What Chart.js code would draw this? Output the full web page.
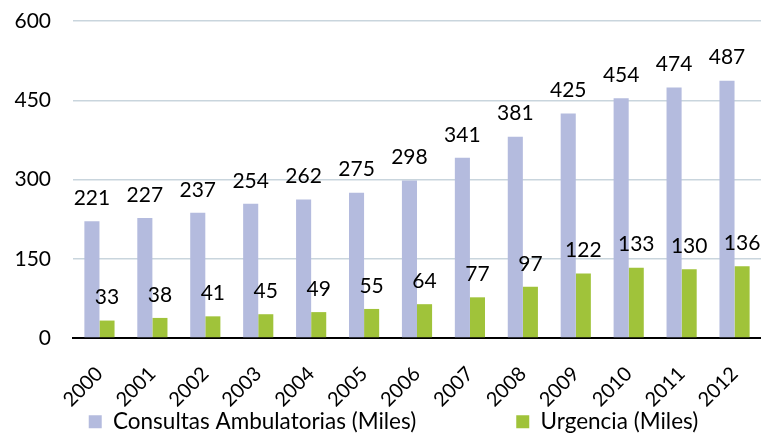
<!DOCTYPE html>
<html>
<head>
<meta charset="utf-8">
<script src="https://cdn.jsdelivr.net/npm/chart.js@4.4.1/dist/chart.umd.min.js"></script>
<style>
  html, body { margin: 0; padding: 0; background: #ffffff; }
  #wrap { width: 761px; height: 435px; }
</style>
</head>
<body>
<div id="wrap"><canvas id="c" width="761" height="435"></canvas></div>
<script>
const years = ['2000','2001','2002','2003','2004','2005','2006','2007','2008','2009','2010','2011','2012'];
const consultas = [221, 227, 237, 254, 262, 275, 298, 341, 381, 425, 454, 474, 487];
const urgencia = [33, 38, 41, 45, 49, 55, 64, 77, 97, 122, 133, 130, 136];
const seriesNames = ['Consultas Ambulatorias (Miles)', 'Urgencia (Miles)'];
const yTicks = [0, 150, 300, 450, 600];

const FONT = 'Lato, "Open Sans", sans-serif';
const LEGEND_FONT = 22.5;
const LEGEND_PAD = 100;        // horizontal gap between legend items
const LEGEND_HEIGHT = 24;      // vertical space reserved for the legend
const LEGEND_TEXT_OFFSET = 13; // text centre below legend top
const LEGEND_SHIFT = 13;       // legend sits slightly right of centre

const valueLabels = {
  id: 'valueLabels',
  afterDatasetsDraw(chart) {
    const ctx = chart.ctx;
    ctx.save();
    ctx.font = '21px ' + FONT;
    ctx.fillStyle = '#000000';
    ctx.textAlign = 'center';
    ctx.textBaseline = 'middle';
    chart.data.datasets.forEach((ds, di) => {
      const meta = chart.getDatasetMeta(di);
      meta.data.forEach((bar, i) => {
        ctx.fillText(String(ds.data[i]), bar.x, bar.y - 23);
      });
    });
    ctx.restore();
  }
};

// keep the wide horizontal gap between legend items without a tall legend box
const legendTweak = {
  id: 'legendTweak',
  beforeInit(chart) {
    const lg = chart.legend;
    if (!lg || lg._tweaked) return;
    lg._tweaked = true;
    const origFit = lg.fit;
    lg.fit = function () {
      const mw = this.maxWidth;
      this.maxWidth = 5000;
      origFit.call(this);
      this.maxWidth = mw;
      this.width = mw;
      this.height = LEGEND_HEIGHT;
    };
    const origDraw = lg._draw;
    lg._draw = function () {
      const t = this.top, l = this.left, r = this.right;
      this.top = t - LEGEND_PAD + LEGEND_TEXT_OFFSET - (LEGEND_FONT * 1.2) / 2;
      this.left = l - 300 + LEGEND_SHIFT;
      this.right = r + 300 + LEGEND_SHIFT;
      origDraw.call(this);
      this.top = t; this.left = l; this.right = r;
    };
  }
};

new Chart(document.getElementById('c'), {
  type: 'bar',
  data: {
    labels: years,
    datasets: [
      { label: seriesNames[0], data: consultas, backgroundColor: '#b4bbde', borderWidth: 0 },
      { label: seriesNames[1], data: urgencia, backgroundColor: '#a0c33a', borderWidth: 0 }
    ]
  },
  options: {
    responsive: false,
    animation: false,
    devicePixelRatio: 1,
    layout: { padding: { left: 0, right: 0, top: 0, bottom: 0 } },
    datasets: { bar: { categoryPercentage: 0.57, barPercentage: 1.0 } },
    scales: {
      x: {
        grid: { display: false, drawTicks: false },
        border: { display: true, color: '#000000', width: 2 },
        afterFit(axis) { axis.height = 73; axis.paddingLeft = 0; axis.paddingRight = 0; },
        ticks: {
          color: '#000000',
          font: { family: FONT, size: 20 },
          minRotation: 45,
          maxRotation: 45,
          padding: 24
        }
      },
      y: {
        min: 0,
        max: 600,
        afterBuildTicks(axis) { axis.ticks = yTicks.map(v => ({ value: v })); },
        afterFit(axis) { axis.width = 73; axis.paddingTop = 21; axis.paddingBottom = 0; },
        grid: { color: '#c9d5dd', lineWidth: 1.5, drawTicks: false },
        border: { display: false },
        ticks: {
          color: '#000000',
          font: { family: FONT, size: 21 },
          padding: 22
        }
      }
    },
    plugins: {
      legend: {
        position: 'bottom',
        labels: {
          color: '#000000',
          font: { family: FONT, size: LEGEND_FONT },
          boxWidth: 13,
          boxHeight: 13,
          padding: LEGEND_PAD
        }
      },
      tooltip: { enabled: false }
    }
  },
  plugins: [legendTweak, valueLabels]
});
</script>
</body>
</html>
